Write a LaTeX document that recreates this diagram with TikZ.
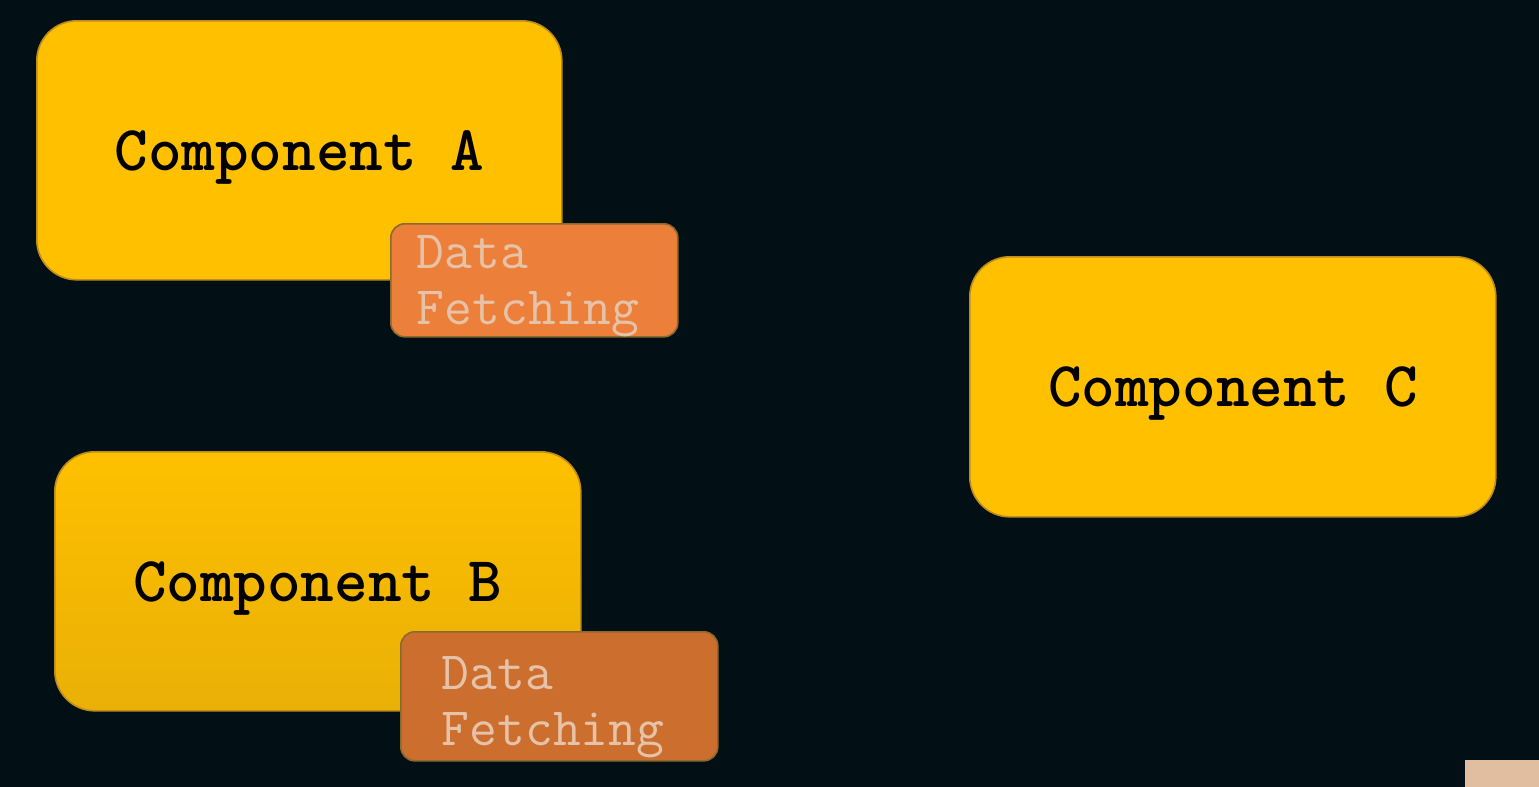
\documentclass[tikz,border=0pt]{standalone}
\usepackage{fontspec}
\definecolor{bgc}{RGB}{2,15,21}
\definecolor{ylw}{RGB}{255,192,0}
\definecolor{ylwb}{RGB}{233,176,6}
\definecolor{ylwline}{RGB}{190,140,30}
\definecolor{orA}{RGB}{236,127,58}
\definecolor{orB}{RGB}{204,110,46}
\definecolor{orline}{RGB}{140,105,45}
\definecolor{peach}{RGB}{230,195,168}
\definecolor{logo}{RGB}{226,190,160}
\tikzset{
  compbox/.style={draw=ylwline, line width=0.8pt, rounded corners=20pt, anchor=north west,
    inner sep=0pt, align=center, text depth=0pt, font=\ttfamily\bfseries\fontsize{32}{34}\selectfont, text=black},
  fetchbox/.style={draw=orline, line width=0.8pt, rounded corners=7pt, anchor=north west,
    inner ysep=0pt, align=left, text width=117.5pt, text=peach,
    font=\ttfamily\fontsize{27}{28}\selectfont}
}
\begin{document}
\begin{tikzpicture}[x=0.5pt,y=-0.5pt]
\fill[bgc] (0,0) rectangle (1539,787);
\useasboundingbox (0,0) rectangle (1539,787);
% Component A
\node[compbox, fill=ylw, minimum width=262.5pt, minimum height=129.5pt] (compA) at (36,20) {Component A};
\node[fetchbox, fill=orA, inner xsep=13pt, minimum height=56.5pt] (fetchA) at (390,223) {Data\\\smash{Fetching}};
% Component B
\node[compbox, top color=ylw, bottom color=ylwb, minimum width=263pt, minimum height=129.5pt] (compB) at (54,451) {Component B};
\node[fetchbox, fill=orB, inner xsep=20.5pt, minimum height=64.5pt] (fetchB) at (400,631) {\rule{0pt}{21.5pt}Data\\\smash{Fetching}};
% Component C
\node[compbox, fill=ylw, minimum width=263pt, minimum height=130pt] (compC) at (969,256) {Component C};
% corner logo fragment
\fill[logo] (1465,760) rectangle (1539,787);
\end{tikzpicture}
\end{document}
